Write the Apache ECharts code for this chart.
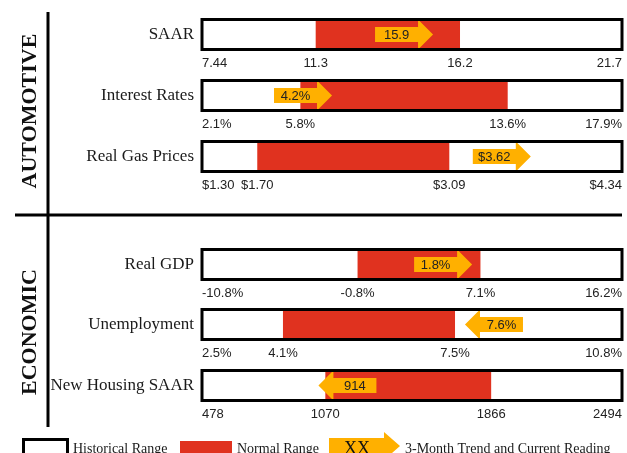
<!DOCTYPE html>
<html>
<head>
<meta charset="utf-8">
<script src="https://cdn.jsdelivr.net/npm/echarts@6/dist/echarts.min.js"></script>
<style>
  html, body { margin: 0; padding: 0; background: #fff; }
  #chart { width: 627px; height: 453px; }
</style>
</head>
<body>
<div id="chart"></div>
<script>
// dashboard rows
const rowNames = ['SAAR', 'Interest Rates', 'Real Gas Prices', 'Real GDP', 'Unemployment', 'New Housing SAAR'];
const histMin = [7.44, 2.1, 1.30, -10.8, 2.5, 478];
const histMax = [21.7, 17.9, 4.34, 16.2, 10.8, 2494];
const normLow = [11.3, 5.8, 1.70, -0.8, 4.1, 1070];
const normHigh = [16.2, 13.6, 3.09, 7.1, 7.5, 1866];
const current = [15.9, 4.2, 3.62, 1.8, 7.6, 914];
const currentLabels = ['15.9', '4.2%', '$3.62', '1.8%', '7.6%', '914'];
const trendUp = [true, true, true, true, false, false];
// where the arrow sits on each row's scale
const arrowAt = [14.3, 5.9, 3.47, 4.7, 8.27, 1176];
const tickLabels = [
  ['7.44', '11.3', '16.2', '21.7'],
  ['2.1%', '5.8%', '13.6%', '17.9%'],
  ['$1.30', '$1.70', '$3.09', '$4.34'],
  ['-10.8%', '-0.8%', '7.1%', '16.2%'],
  ['2.5%', '4.1%', '7.5%', '10.8%'],
  ['478', '1070', '1866', '2494']
];

const RED = '#e0321f';
const ORANGE = '#ffb000';
const SERIF = '"Liberation Serif", "Times New Roman", serif';
const SANS = '"Liberation Sans", Arial, sans-serif';

const rowTops = [19.5, 80.5, 141.5, 249.5, 309.5, 370.5];

function arrowPoints(cx, cy, up, len, headLen, bodyH, headH) {
  const a = cx - len / 2, b = cx + len / 2;
  if (up) {
    const n = b - headLen;
    return [[a, cy - bodyH], [n, cy - bodyH], [n, cy - headH], [b, cy], [n, cy + headH], [n, cy + bodyH], [a, cy + bodyH]];
  }
  const n = a + headLen;
  return [[b, cy - bodyH], [n, cy - bodyH], [n, cy - headH], [a, cy], [n, cy + headH], [n, cy + bodyH], [b, cy + bodyH]];
}

const grid = [], xAxis = [], yAxis = [], series = [];
rowNames.forEach((name, i) => {
  grid.push({ left: 202, right: 5, top: rowTops[i], height: 30 });
  const ticks = [histMin[i], normLow[i], normHigh[i], histMax[i]];
  xAxis.push({
    type: 'value', gridIndex: i, min: histMin[i], max: histMax[i],
    axisLine: { show: false }, axisTick: { show: false }, splitLine: { show: false },
    axisLabel: {
      customValues: ticks,
      margin: 7,
      fontFamily: SANS, fontSize: 13, color: '#222',
      alignMinLabel: 'left', alignMaxLabel: 'right',
      hideOverlap: false,
      formatter: v => {
        let k = 0;
        ticks.forEach((t, j) => { if (Math.abs(t - v) < Math.abs(ticks[k] - v)) k = j; });
        return tickLabels[i][k];
      }
    }
  });
  yAxis.push({
    type: 'category', gridIndex: i, data: [name],
    axisLine: { show: false }, axisTick: { show: false },
    axisLabel: { margin: 8, fontFamily: SERIF, fontSize: 17, color: '#1a1a1a' }
  });
  series.push({
    type: 'custom', xAxisIndex: i, yAxisIndex: i, clip: false,
    data: [[histMin[i], histMax[i], normLow[i], normHigh[i], arrowAt[i], current[i]]],
    renderItem: (params, api) => {
      const cs = params.coordSys;
      const cy = cs.y + cs.height / 2;
      const xl = api.coord([api.value(2), 0])[0];
      const xh = api.coord([api.value(3), 0])[0];
      const xa = api.coord([api.value(4), 0])[0];
      const up = trendUp[i];
      const len = 58, headLen = 15;
      const textX = up ? xa - headLen / 2 : xa + headLen / 2;
      return {
        type: 'group',
        children: [
          { type: 'rect', shape: { x: cs.x, y: cs.y, width: cs.width, height: cs.height }, style: { fill: '#fff' } },
          { type: 'rect', shape: { x: xl, y: cs.y, width: xh - xl, height: cs.height }, style: { fill: RED } },
          { type: 'polygon', shape: { points: arrowPoints(xa, cy, up, len, headLen, 7.5, 15) }, style: { fill: ORANGE } },
          { type: 'rect', shape: { x: cs.x, y: cs.y, width: cs.width, height: cs.height }, style: { fill: 'none', stroke: '#000', lineWidth: 3 } },
          { type: 'text', x: textX, y: cy + 0.5, style: { text: currentLabels[i], fill: '#222', font: '13px ' + SANS, align: 'center', verticalAlign: 'middle' } }
        ]
      };
    }
  });
});

const graphic = [
  { type: 'line', shape: { x1: 48, y1: 12, x2: 48, y2: 427 }, style: { stroke: '#000', lineWidth: 3 } },
  { type: 'line', shape: { x1: 15, y1: 215, x2: 622, y2: 215 }, style: { stroke: '#000', lineWidth: 3 } },
  { type: 'text', x: 30, y: 111, rotation: Math.PI / 2, style: { text: 'AUTOMOTIVE', font: 'bold 22px ' + SERIF, fill: '#111', align: 'center', verticalAlign: 'middle' } },
  { type: 'text', x: 30, y: 332, rotation: Math.PI / 2, style: { text: 'ECONOMIC', font: 'bold 22px ' + SERIF, fill: '#111', align: 'center', verticalAlign: 'middle' } },
  // legend
  { type: 'rect', shape: { x: 23.5, y: 439.5, width: 44, height: 22 }, style: { fill: '#fff', stroke: '#000', lineWidth: 3 } },
  { type: 'text', x: 73, y: 449, style: { text: 'Historical Range', font: '14px ' + SERIF, fill: '#1a1a1a', verticalAlign: 'middle' } },
  { type: 'rect', shape: { x: 180, y: 441, width: 52, height: 16 }, style: { fill: RED } },
  { type: 'text', x: 237, y: 449, style: { text: 'Normal Range', font: '14px ' + SERIF, fill: '#1a1a1a', verticalAlign: 'middle' } },
  { type: 'polygon', shape: { points: arrowPoints(364.5, 446, true, 71, 16, 8, 14) }, style: { fill: ORANGE } },
  { type: 'text', x: 357, y: 449, style: { text: 'XX', font: '18px ' + SERIF, fill: '#111', align: 'center', verticalAlign: 'middle' } },
  { type: 'text', x: 405, y: 449, style: { text: '3-Month Trend and Current Reading', font: '14px ' + SERIF, fill: '#1a1a1a', verticalAlign: 'middle' } }
];

const chart = echarts.init(document.getElementById('chart'), null, { renderer: 'canvas' });
chart.setOption({
  backgroundColor: '#fff',
  animation: false,
  grid, xAxis, yAxis, series, graphic
});
window.onresize = function() {
  chart.resize();
};
</script>
</body>
</html>
